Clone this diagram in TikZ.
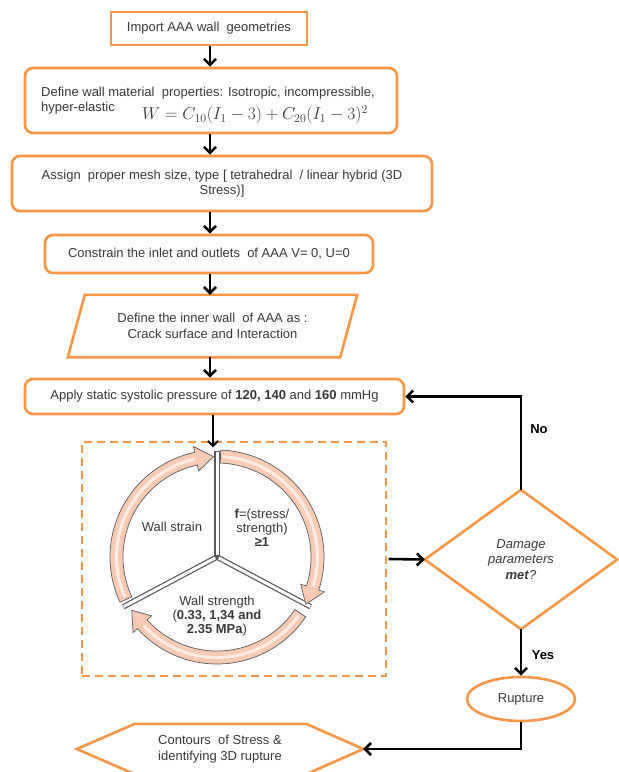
\documentclass[tikz,border=0pt]{standalone}
\usepackage{fontspec}
\setmainfont{Liberation Sans}
\usetikzlibrary{arrows.meta,shapes.geometric}
\definecolor{org}{HTML}{F79646}
\definecolor{peach}{HTML}{F7CBB3}
\definecolor{txt}{HTML}{383838}
\definecolor{ringline}{HTML}{5A5A5A}
\newcommand\myringarrow[2]{%
  \path[fill=peach, draw=ringline, line width=0.7pt]
    (#1:107) arc[start angle=#1, end angle=#2+10, radius=107]
    -- (#2+10:113) -- (#2:100.5) -- (#2+10:88) -- (#2+10:94)
    arc[start angle=#2+10, end angle=#1, radius=94] -- cycle;
  \draw[white, opacity=.65, line width=3pt]
    (#1-1.5:100.5) arc[start angle=#1-1.5, end angle=#2+11, radius=100.5];
}
\begin{document}
\begin{tikzpicture}[x=1pt,y=-1pt,
  font=\fontsize{13}{15.5}\selectfont,
  box/.style={draw=org, line width=2.6pt, rounded corners=8pt, text=txt,
    align=center, inner sep=0pt, fill=white},
  plain/.style={text=txt, align=center, inner sep=0pt},
  arr/.style={draw=black, line width=2.6pt, -{Straight Barb[length=6pt,width=12pt]}},
  thinarr/.style={draw=black, line width=2pt, -{Straight Barb[length=5pt,width=10pt]}},
  outline/.style={draw=org, line width=2.6pt, line join=miter},
  dashbox/.style={draw=org, line width=1.3pt, dash pattern=on 8pt off 5pt, inner sep=0pt},
  lbl/.style={font=\fontsize{13}{15.5}\selectfont\bfseries, text=black, inner sep=0pt}]
\useasboundingbox (0,0) rectangle (619,772);

% process boxes
\node[box, sharp corners, minimum width=196, minimum height=33] (imp) at (209,28.5) {Import AAA wall\ \ geometries};
\node[box, minimum width=372, minimum height=65] (def) at (211,100.5) {};
\node[plain, anchor=west] (deft1) at (41,93) {Define wall material\ \ properties: Isotropic, incompressible,};
\node[plain, anchor=west] (deft2) at (41,108) {hyper-elastic};
\node[plain, font=\fontsize{16.5}{18}\selectfont] (eq) at (255,115) {$W = C_{10}(I_1 - 3) + C_{20}(I_1 - 3)^2$};
\node[box, minimum width=420, minimum height=55] (asg) at (222,183.5) {Assign\ \ proper mesh size, type [ tetrahedral\ \ / linear hybrid (3D\\Stress)]};
\node[box, minimum width=328, minimum height=38] (con) at (209,254) {Constrain the inlet and outlets\ \ of AAA V= 0, U=0};
\node[plain, minimum width=255, minimum height=62] (par) at (212.5,326) {Define the inner wall\ \ of AAA as :\\Crack surface and Interaction};
\draw[outline] (par.north west) -- ([xshift=17pt]par.north east)
  -- (par.south east) -- ([xshift=-17pt]par.south west) -- cycle;
\node[box, minimum width=379, minimum height=35] (app) at (214.5,396.5) {Apply static systolic pressure of \textbf{120, 140} and \textbf{160} mmHg};

% dashed frame around the cycle
\node[dashbox, minimum width=304, minimum height=234] (cyc) at (234,559) {};

% decision, rupture, output
\node[plain, minimum width=192, minimum height=139] (dia) at (521,559.5) {\textit{Damage}\\\textit{parameters}\\\textbf{\textit{met}}\textit{?}};
\draw[outline] (dia.west) -- (dia.north) -- (dia.east) -- (dia.south) -- cycle;
\node[draw=org, line width=2.6pt, ellipse, minimum width=108, minimum height=44, inner sep=0pt, text=txt] (rup) at (521,699) {Rupture};
\node[plain, minimum width=286, minimum height=50] (hex) at (220,749) {Contours\ \ of Stress \&\\identifying 3D rupture};
\draw[outline] (hex.west) -- ([xshift=58pt]hex.north west) -- ([xshift=-57pt]hex.north east) -- (hex.east)
  -- ([xshift=-57pt]hex.south east) -- ([xshift=58pt]hex.south west) -- cycle;

% cycle diagram
\begin{scope}[shift={(217,557)}, yscale=-1]
  \foreach \a in {90,208,-28} {
    \draw[ringline, line width=5.5pt] (0,0) -- (\a:106);
  }
  \foreach \a in {90,208,-28} {
    \draw[white, line width=3pt] (\a:2) -- (\a:105.5);
  }
  \myringarrow{205}{92}
  \myringarrow{88}{-28}
  \myringarrow{-34}{-148}
\end{scope}
\node[plain] (ws) at (172,527) {Wall strain};
\node[plain, font=\fontsize{13}{14}\selectfont] (fs) at (262,528) {\textbf{f}=(stress/\\strength)\\\textbf{≥1}};
\node[plain, font=\fontsize{13}{14}\selectfont] (wst) at (217,616) {Wall strength\\(\textbf{0.33, 1,34 and}\\\textbf{2.35 MPa})};

% connectors
\coordinate (ax) at (210,0);
\coordinate (bx) at (213,0);
\draw[arr] (imp.south -| ax) -- (def.north -| ax);
\draw[arr] (def.south -| ax) -- (asg.north -| ax);
\draw[arr] (asg.south -| ax) -- (con.north -| ax);
\draw[arr] (con.south -| ax) -- (par.north -| ax);
\draw[arr] (par.south -| ax) -- (app.north -| ax);
\draw[thinarr] (app.south -| bx) -- ([yshift=-6pt]cyc.north -| bx);
\draw[arr] ([xshift=2pt]cyc.east) -- (dia.west);
\draw[arr] (dia.north) |- (app.east);
\draw[arr] (dia.south) -- (rup.north);
\draw[arr] (rup.south) |- (hex.east);
\node[lbl] (no) at (539,429) {No};
\node[lbl] (yes) at (543,655) {Yes};
\end{tikzpicture}
\end{document}
